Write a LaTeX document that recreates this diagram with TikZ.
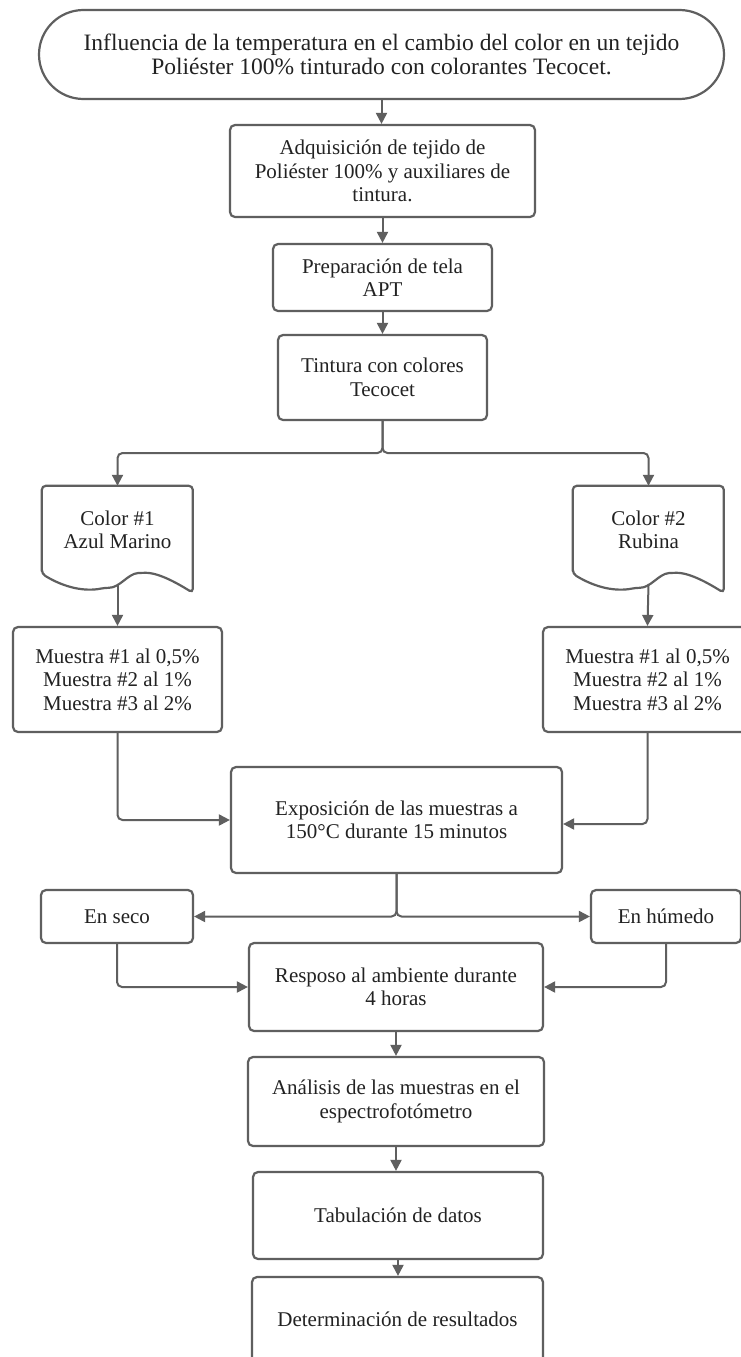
\documentclass[tikz,border=0pt]{standalone}
\usepackage{fontspec}
\setmainfont{Liberation Serif}
\usetikzlibrary{arrows.meta,shapes.misc}
\definecolor{lc}{HTML}{5F5F5F}
\definecolor{tc}{HTML}{222222}
\begin{document}
\begin{tikzpicture}[x=1pt,y=-1pt,
  box/.style={draw=lc,line width=2.2pt,rounded corners=5pt,fill=white,align=center,text=tc,
    font=\fontsize{21}{23.5}\selectfont,inner sep=0pt},
  term/.style={box,rounded rectangle,rounded corners=0pt,font=\fontsize{23.5}{24.5}\selectfont},
  txt/.style={align=center,text=tc,font=\fontsize{21}{23.5}\selectfont,inner sep=0pt},
  docline/.style={draw=lc,line width=2.2pt,fill=white,rounded corners=4pt},
  conn/.style={draw=lc,line width=2pt,rounded corners=5pt,-{Triangle[length=11pt,width=11pt]}}]
\fill[white] (0,0) rectangle (741,1357);
\useasboundingbox (0,0) rectangle (741,1357);

% main column
\node[term,minimum width=685pt,minimum height=89pt] (T) at (381.5,54.5)
  {Influencia de la temperatura en el cambio del color en un tejido\\Poliéster 100\% tinturado con colorantes Tecocet.};
\node[box,minimum width=305pt,minimum height=92pt] (B2) at (382.5,171)
  {Adquisición de tejido de\\Poliéster 100\% y auxiliares de\\tintura.};
\node[box,minimum width=219pt,minimum height=67pt] (B3) at (382.5,277.5)
  {Preparación de tela\\APT};
\node[box,minimum width=209pt,minimum height=85pt] (B4) at (382.5,377.5)
  {Tintura con colores\\Tecocet};

% document shapes
\node[txt,minimum width=151pt,minimum height=88pt] (D1) at (117.5,530) {};
\node[txt,minimum width=151pt,minimum height=88pt] (D2) at (648.5,530) {};
\begin{scope}[shift={(D1.north west)}]
  \draw[docline] (0,88) -- (0,0) -- (151,0) -- (151,107)
    .. controls (138,99) and (118,87) .. (100,87)
    .. controls (86,88) and (78,102) .. (63,102)
    .. controls (43,106) and (23,102) .. (0,88) -- cycle;
\end{scope}
\begin{scope}[shift={(D2.north west)}]
  \draw[docline] (0,88) -- (0,0) -- (151,0) -- (151,107)
    .. controls (138,99) and (118,87) .. (100,87)
    .. controls (86,88) and (78,102) .. (63,102)
    .. controls (43,106) and (23,102) .. (0,88) -- cycle;
\end{scope}
\node[txt] at (D1.center) {Color \#1\\Azul Marino};
\node[txt] at (D2.center) {Color \#2\\Rubina};
\coordinate (d1b) at (117.5,584);
\coordinate (d2b) at (648.5,584);

\node[box,minimum width=209pt,minimum height=105pt] (M1) at (117.5,679.5)
  {Muestra \#1 al 0,5\%\\Muestra \#2 al 1\%\\Muestra \#3 al 2\%};
\node[box,minimum width=209pt,minimum height=105pt] (M2) at (647.5,679.5)
  {Muestra \#1 al 0,5\%\\Muestra \#2 al 1\%\\Muestra \#3 al 2\%};

\node[box,minimum width=331pt,minimum height=106pt] (E) at (396.5,820)
  {Exposición de las muestras a\\150°C durante 15 minutos};

\node[box,minimum width=152pt,minimum height=53pt] (S) at (117,916.5) {En seco};
\node[box,minimum width=150pt,minimum height=53pt] (H) at (666,916.5) {En húmedo};

\node[box,minimum width=294pt,minimum height=88pt] (R) at (396,987)
  {Resposo al ambiente durante\\4 horas};
\node[box,minimum width=296pt,minimum height=89pt] (A) at (396,1101.5)
  {Análisis de las muestras en el\\espectrofotómetro};
\node[box,minimum width=290pt,minimum height=87pt] (Tb) at (398,1215.5)
  {Tabulación de datos};
\node[box,minimum width=291pt,minimum height=85pt] (Dt) at (397.5,1319.5)
  {Determinación de resultados};

% connectors
\draw[conn] (T.south) -- (T.south |- B2.north);
\draw[conn] (B2.south) -- (B2.south |- B3.north);
\draw[conn] (B3.south) -- (B3.south |- B4.north);
\coordinate (br) at (382.5,453);
\draw[conn] (B4.south) -- (br) -| (D1.north);
\draw[conn] (B4.south) -- (br) -| (D2.north);
\draw[conn] (d1b) -- (M1.north);
\draw[conn] (d2b) -- (M2.north);
\draw[conn] (M1.south) |- (E.west);
\draw[conn] (M2.south) |- ([yshift=-4pt]E.east);
\coordinate (sp) at (E.south |- S.east);
\draw[conn] (E.south) -- (sp) -- (S.east);
\draw[conn] (E.south) -- (sp) -- (H.west);
\draw[conn] (S.south) |- (R.west);
\draw[conn] (H.south) |- (R.east);
\draw[conn] (R.south) -- (R.south |- A.north);
\draw[conn] (A.south) -- (A.south |- Tb.north);
\draw[conn] (Tb.south) -- (Tb.south |- Dt.north);
\end{tikzpicture}
\end{document}
